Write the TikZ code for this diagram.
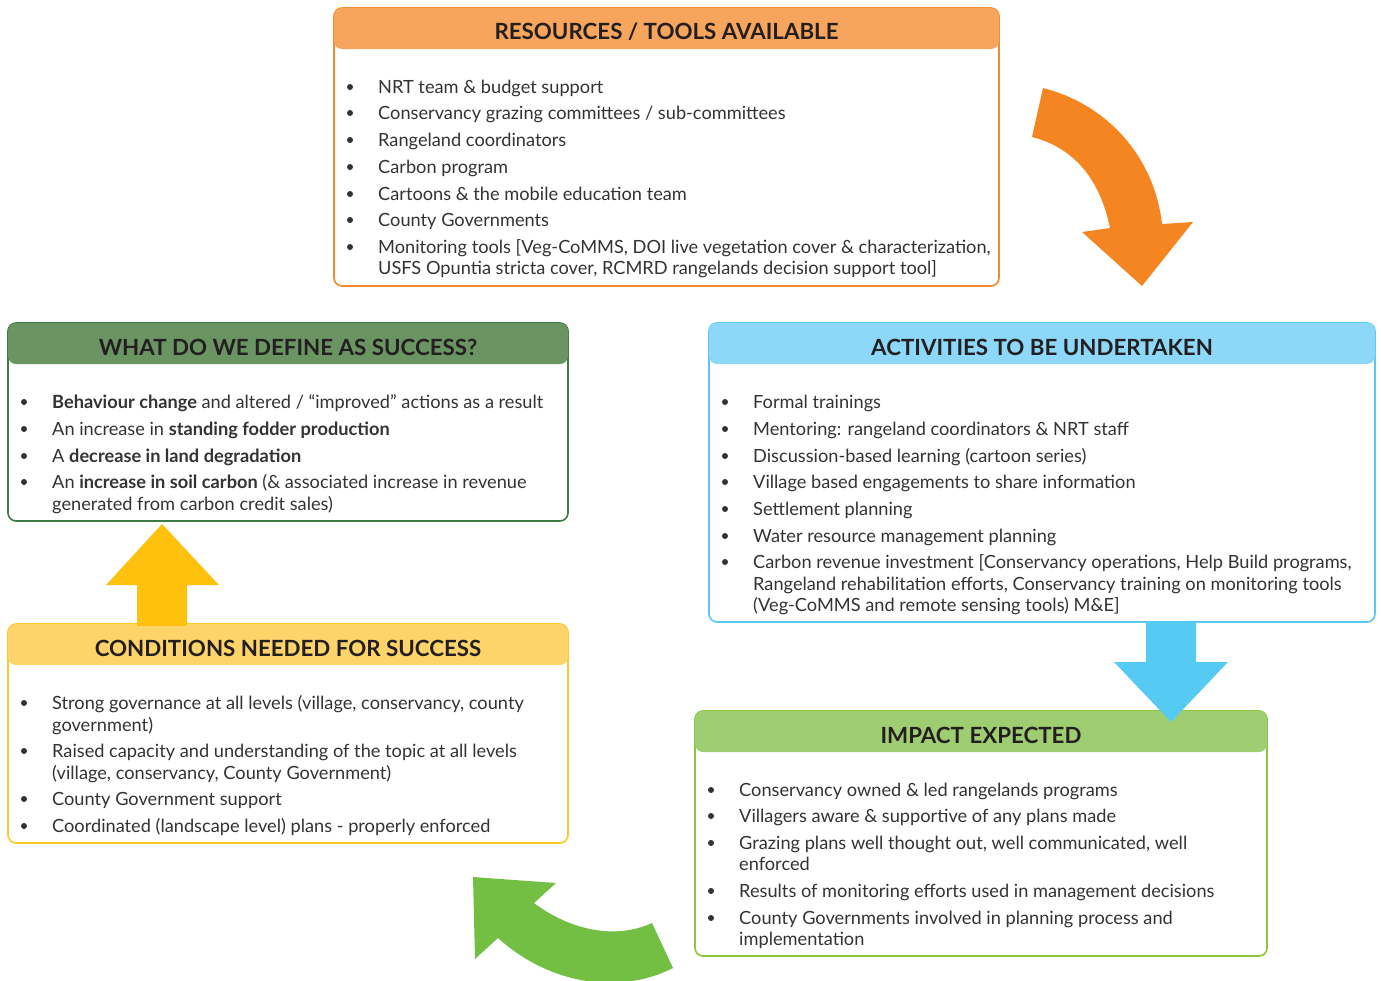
\documentclass[tikz,border=0pt]{standalone}
\usepackage{fontspec}
\setmainfont{Lato}
\definecolor{txt}{HTML}{333333}
\definecolor{headtxt}{HTML}{231F20}
\definecolor{orH}{HTML}{F7A55C}
\definecolor{orB}{HTML}{F28A2E}
\definecolor{orA}{HTML}{F58521}
\definecolor{dgH}{HTML}{6A9462}
\definecolor{dgB}{HTML}{3E7A43}
\definecolor{blH}{HTML}{8DD8F8}
\definecolor{blB}{HTML}{5BC8F2}
\definecolor{blA}{HTML}{55CBF3}
\definecolor{ylH}{HTML}{FDD36A}
\definecolor{ylB}{HTML}{FDC82A}
\definecolor{ylA}{HTML}{FEC10E}
\definecolor{lgH}{HTML}{9FCE72}
\definecolor{lgB}{HTML}{8CC63F}
\definecolor{lgA}{HTML}{72BF44}
\tikzset{
  headtext/.style={font=\fontsize{22.3}{24}\selectfont\bfseries, text=headtxt, inner sep=0pt},
  itemtext/.style={font=\fontsize{18.2}{20}\selectfont, text=txt, inner sep=0pt, anchor=base west},
  bulletdot/.style={fill=txt},
  frame/.style={line width=1.6pt, rounded corners=8pt, fill=white},
  band/.style={rounded corners=8pt},
}
% box: name, x1, y1, x2, y2, yh, headcolour, bordercolour, title
\newcommand\mybox[9]{%
  \draw[frame, draw=#8] (#2,#3) rectangle (#4,#5);
  \fill[band, #7] (#2,#3) rectangle (#4,#6);
  \node[headtext] (#1) at ({(#2+#4)/2},{(#3+#6)/2+3.5}) {#9};
}
% bullet item: name, x, y, text
\newcommand\itm[4]{%
  \fill[bulletdot] (#2-28,#3) circle (3);
  \node[itemtext] (#1) at (#2,#3+6) {#4};
}
% continuation line
\newcommand\cnt[4]{%
  \node[itemtext] (#1) at (#2,#3+6) {#4};
}
\begin{document}
\begin{tikzpicture}[x=1pt,y=-1pt]
\useasboundingbox (0,0) rectangle (1381,980);

% yellow up arrow
\fill[ylA] (162,524) -- (219,585) -- (187,585) -- (187,626) -- (137,626) -- (137,585) -- (106,585) -- cycle;

% boxes
\mybox{res}{334}{8}{999}{286}{49}{orH}{orB}{RESOURCES / TOOLS AVAILABLE}
\mybox{suc}{8}{323}{568}{521}{364}{dgH}{dgB}{WHAT DO WE DEFINE AS SUCCESS?}
\mybox{act}{709}{323}{1375}{622}{364}{blH}{blB}{ACTIVITIES TO BE UNDERTAKEN}
\mybox{con}{8}{624}{568}{843}{665}{ylH}{ylB}{CONDITIONS NEEDED FOR SUCCESS}
\mybox{imp}{695}{711}{1267}{956}{752}{lgH}{lgB}{IMPACT EXPECTED}

% yellow arrow shaft meets header
\fill[ylA] (137,622) rectangle (187,626);

% orange curved arrow
\fill[orA] (1043,88) .. controls (1110,105) and (1155,160) .. (1162,224)
  -- (1193,222) -- (1142,286) -- (1082,232) -- (1110,228)
  .. controls (1100,180) and (1075,148) .. (1032,137) -- cycle;

% blue down arrow
\fill[blA] (1146,621) -- (1196,621) -- (1196,662) -- (1228,662) -- (1171,722) -- (1114,662) -- (1146,662) -- cycle;

% green curved arrow
\fill[lgA] (473,877) -- (556,883) -- (534,903)
  .. controls (570,930) and (615,940) .. (652,923)
  -- (673,968) .. controls (620,995) and (550,985) .. (498,938)
  -- (475,959) -- cycle;

% resources items
\itm{r1}{378}{87}{NRT team \& budget support}
\itm{r2}{378}{113}{Conservancy grazing committees / sub-committees}
\itm{r3}{378}{140}{Rangeland coordinators}
\itm{r4}{378}{167}{Carbon program}
\itm{r5}{378}{194}{Cartoons \& the mobile education team}
\itm{r6}{378}{220}{County Governments}
\itm{r7}{378}{247}{Monitoring tools [Veg-CoMMS, DOI live vegetation cover \& characterization,}
\cnt{r7b}{378}{268}{USFS Opuntia stricta cover, RCMRD rangelands decision support tool]}

% success items
\itm{s1}{52}{402}{\textbf{Behaviour change} and altered / “improved” actions as a result}
\itm{s2}{52}{429}{An increase in \textbf{standing fodder production}}
\itm{s3}{52}{456}{A \textbf{decrease in land degradation}}
\itm{s4}{52}{482}{An \textbf{increase in soil carbon} (\& associated increase in revenue}
\cnt{s4b}{52}{504}{generated from carbon credit sales)}

% activities items
\itm{a1}{753}{402}{Formal trainings}
\itm{a2}{753}{429}{Mentoring: rangeland coordinators \& NRT staff}
\itm{a3}{753}{456}{Discussion-based learning (cartoon series)}
\itm{a4}{753}{482}{Village based engagements to share information}
\itm{a5}{753}{509}{Settlement planning}
\itm{a6}{753}{536}{Water resource management planning}
\itm{a7}{753}{562}{Carbon revenue investment [Conservancy operations, Help Build programs,}
\cnt{a7b}{753}{584}{Rangeland rehabilitation efforts, Conservancy training on monitoring tools}
\cnt{a7c}{753}{605}{(Veg-CoMMS and remote sensing tools) M\&E]}

% conditions items
\itm{c1}{52}{703}{Strong governance at all levels (village, conservancy, county}
\cnt{c1b}{52}{725}{government)}
\itm{c2}{52}{751}{Raised capacity and understanding of the topic at all levels}
\cnt{c2b}{52}{773}{(village, conservancy, County Government)}
\itm{c3}{52}{799}{County Government support}
\itm{c4}{52}{826}{Coordinated (landscape level) plans - properly enforced}

% impact items
\itm{i1}{739}{790}{Conservancy owned \& led rangelands programs}
\itm{i2}{739}{816}{Villagers aware \& supportive of any plans made}
\itm{i3}{739}{843}{Grazing plans well thought out, well communicated, well}
\cnt{i3b}{739}{864}{enforced}
\itm{i4}{739}{891}{Results of monitoring efforts used in management decisions}
\itm{i5}{739}{918}{County Governments involved in planning process and}
\cnt{i5b}{739}{939}{implementation}
\end{tikzpicture}
\end{document}
